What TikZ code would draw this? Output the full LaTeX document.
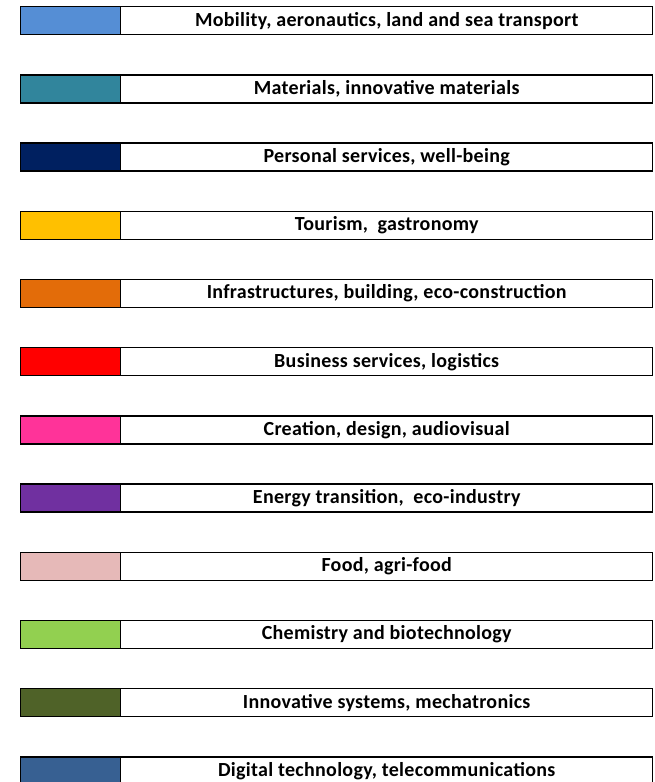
\documentclass[tikz,border=0pt]{standalone}
\usepackage{fontspec}
\setmainfont[LetterSpace=1.5]{Carlito}
\definecolor{c1}{HTML}{558ED5}
\definecolor{c2}{HTML}{31859C}
\definecolor{c3}{HTML}{002060}
\definecolor{c4}{HTML}{FFC000}
\definecolor{c5}{HTML}{E36C09}
\definecolor{c6}{HTML}{FF0000}
\definecolor{c7}{HTML}{FF3399}
\definecolor{c8}{HTML}{7030A0}
\definecolor{c9}{HTML}{E6B9B8}
\definecolor{c10}{HTML}{92D050}
\definecolor{c11}{HTML}{4F6228}
\definecolor{c12}{HTML}{376092}
\tikzset{
  swatch/.style={draw=black, line width=1.4pt, minimum width=100pt, minimum height=28pt, inner sep=0pt, anchor=north west},
  label/.style={draw=black, fill=white, line width=1.4pt, minimum width=532pt, minimum height=28pt, inner sep=0pt, anchor=north west, font=\bfseries\fontsize{20}{22}\selectfont}
}
\begin{document}
\begin{tikzpicture}[x=1pt,y=-1pt]
\useasboundingbox (0,0) rectangle (654,782);
\foreach \i/\t in {1/{Mobility, aeronautics, land and sea transport},
  2/{Materials, innovative materials},
  3/{Personal services, well-being},
  4/{Tourism,\ \ gastronomy},
  5/{Infrastructures, building, eco-construction},
  6/{Business services, logistics},
  7/{Creation, design, audiovisual},
  8/{Energy transition,\ \ eco-industry},
  9/{Food, agri-food},
  10/{Chemistry and biotechnology},
  11/{Innovative systems, mechatronics},
  12/{Digital technology, telecommunications}} {
  \pgfmathsetmacro{\yy}{6+(\i-1)*68.2}
  \node[swatch, fill=c\i] (s\i) at (20,\yy) {};
  \node[label] (l\i) at (120,\yy) {\t};
}
\end{tikzpicture}
\end{document}
